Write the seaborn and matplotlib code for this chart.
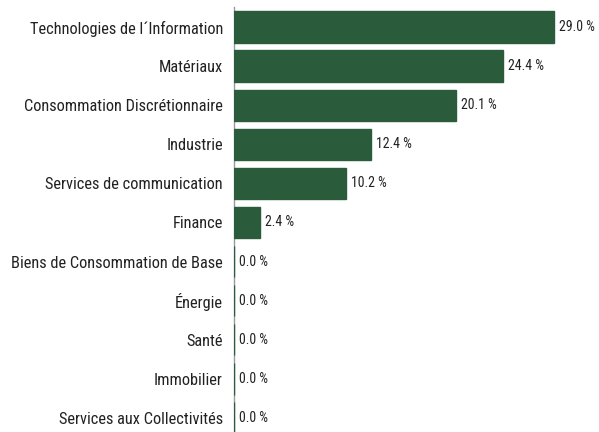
import numpy as np
import pandas as pd
import matplotlib.pyplot as plt
import seaborn as sns

#########################################################################
#데이터
#########################################################################

sectors = ['Technologies de l´Information', 'Matériaux', 'Consommation Discrétionnaire',
           'Industrie', 'Services de communication', 'Finance',
           'Biens de Consommation de Base', 'Énergie', 'Santé', 'Immobilier',
           'Services aux Collectivités']
weights = [29.0, 24.4, 20.1, 12.4, 10.2, 2.4, 0.0, 0.0, 0.0, 0.0, 0.0]

df = pd.DataFrame({'sector': sectors,
                   'weight': weights})

##########################################################################
#시각화
##########################################################################

plt.rcParams['font.family'] = ['Roboto Condensed', 'Liberation Sans Narrow', 'Roboto', 'DejaVu Sans']

fig = plt.figure(figsize=(5.99, 4.32), dpi=100)
ax = fig.add_axes([234/599, -5.5/432, 1 - 234/599, 430/432]) #왼쪽 라벨 공간 남기기
sns.barplot(data=df, x='weight', y='sector', color='#2a5c3b', saturation=1,
            width=0.8, edgecolor='#2a5c3b', linewidth=1, ax=ax)
ax.set_xlim(0, 33.1)
ax.set_ylim(10.5, -0.5)

#막대 옆 값 표시
for i, w in enumerate(df.weight):
    ax.text(w + 0.45, i, '{:.1f} %'.format(w), va='center', ha='left', fontsize=10, color='#222222')

ax.set_xlabel('')
ax.set_ylabel('')
ax.set_xticks([])
ax.tick_params(axis='y', length=0, labelsize=11.8, pad=8, labelcolor='#222222')
for s in ['top', 'right', 'bottom']:
    ax.spines[s].set_visible(False)
ax.spines['left'].set_color('#999999')
ax.spines['left'].set_linewidth(1)
ax.spines['left'].set_zorder(0)

plt.savefig('out.png', dpi=100)
